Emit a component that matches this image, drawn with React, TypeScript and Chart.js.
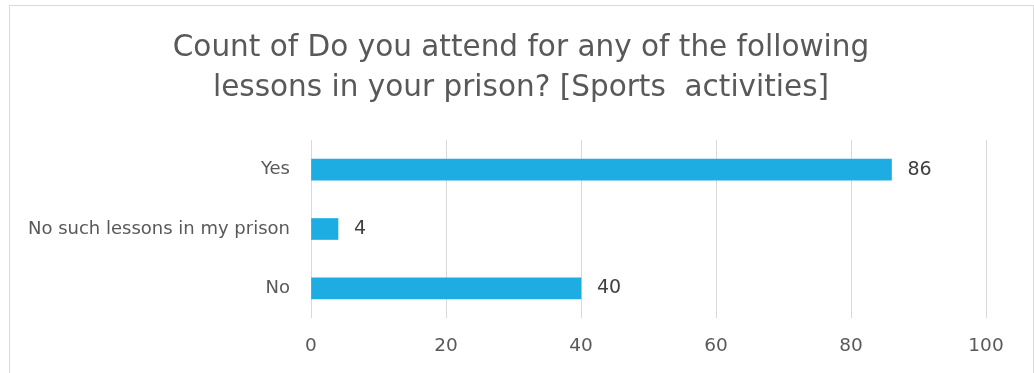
import React, { useEffect, useRef } from "react";
import { Chart, registerables } from "chart.js";

Chart.register(...registerables);

const categories: string[] = ["Yes", "No such lessons in my prison", "No"];
const counts: number[] = [86, 4, 40];
const titleLines: string[] = [
  "Count of Do you attend for any of the following",
  "lessons in your prison? [Sports  activities]",
];
const xTicks: number[] = [0, 20, 40, 60, 80, 100];

const FONT = "'DejaVu Sans', sans-serif";

export default function App() {
  const ref = useRef<HTMLCanvasElement | null>(null);

  useEffect(() => {
    document.body.style.margin = "0";
    const canvas = ref.current;
    if (!canvas) return;

    const titlePlugin = {
      id: "customTitle",
      afterDraw(chart: any) {
        const ctx = chart.ctx;
        ctx.save();
        ctx.fillStyle = "#595959";
        ctx.font = `29.5px ${FONT}`;
        ctx.textAlign = "center";
        ctx.textBaseline = "alphabetic";
        titleLines.forEach((t, i) => ctx.fillText(t, 521, 56 + i * 39.5));
        ctx.restore();
      },
    };

    const valueLabels = {
      id: "valueLabels",
      afterDatasetsDraw(chart: any) {
        const ctx = chart.ctx;
        const meta = chart.getDatasetMeta(0);
        ctx.save();
        ctx.fillStyle = "#404040";
        ctx.font = `19px ${FONT}`;
        ctx.textAlign = "left";
        ctx.textBaseline = "middle";
        meta.data.forEach((bar: any, i: number) => {
          ctx.fillText(String(counts[i]), bar.x + 16, bar.y);
        });
        ctx.restore();
      },
    };

    const chart = new Chart(canvas, {
      type: "bar",
      data: {
        labels: categories,
        datasets: [
          {
            data: counts,
            backgroundColor: "#1EADE2",
            barThickness: 21,
          },
        ],
      },
      options: {
        indexAxis: "y",
        animation: false,
        responsive: false,
        layout: { padding: { top: 140, right: 48, left: 0, bottom: 0 } },
        plugins: {
          legend: { display: false },
          title: { display: false },
          tooltip: { enabled: false },
        },
        scales: {
          x: {
            min: 0,
            max: 100,
            afterBuildTicks(scale: any) {
              scale.ticks = xTicks.map((v) => ({ value: v }));
            },
            afterFit(scale: any) {
              scale.height = 55;
            },
            grid: { color: "#d9d9d9", drawTicks: false, lineWidth: 1 },
            border: { display: false },
            ticks: {
              color: "#595959",
              font: { family: FONT, size: 18.5 },
              padding: 17,
            },
          },
          y: {
            afterFit(scale: any) {
              scale.width = 311;
            },
            grid: { display: false, drawTicks: false },
            border: { display: false },
            ticks: {
              color: "#595959",
              font: { family: FONT, size: 18 },
              padding: 21,
            },
          },
        },
      },
      plugins: [titlePlugin, valueLabels],
    });

    return () => chart.destroy();
  }, []);

  return (
    <div style={{ position: "fixed", left: 0, top: 0, width: 1034, height: 373, background: "#fff" }}>
      <div
        style={{
          position: "absolute",
          left: 9,
          top: 5,
          width: 1025,
          height: 400,
          border: "1px solid #d9d9d9",
          boxSizing: "border-box",
        }}
      />
      <canvas ref={ref} width={1034} height={373} style={{ position: "absolute", left: 0, top: 0 }} />
    </div>
  );
}
